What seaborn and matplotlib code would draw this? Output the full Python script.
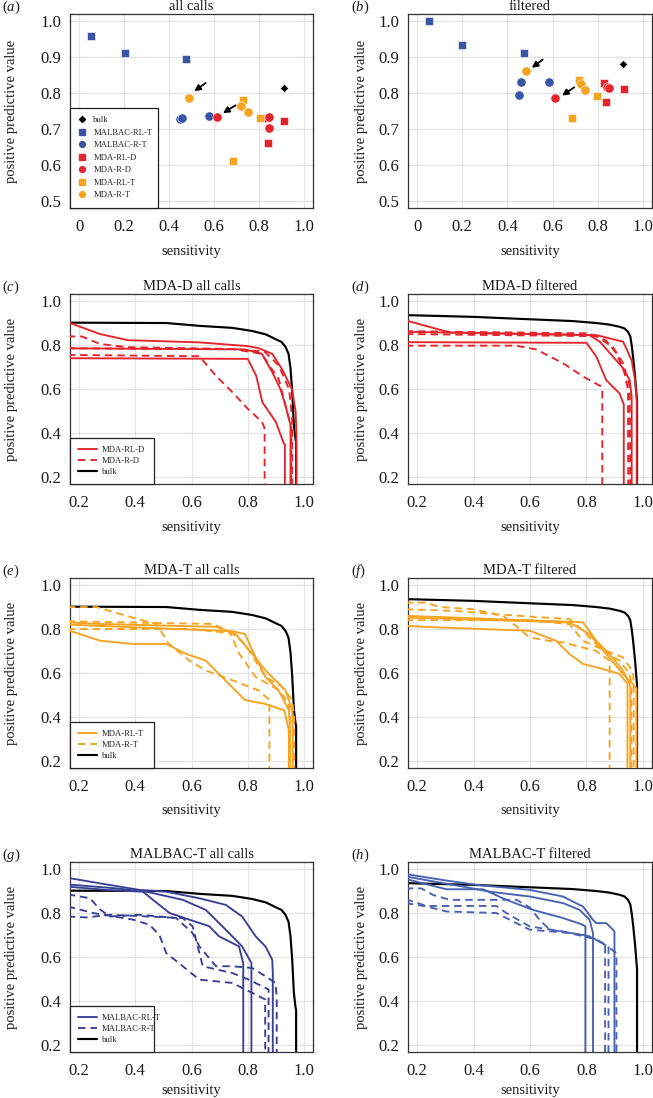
import matplotlib
matplotlib.use("Agg")
import matplotlib.pyplot as plt
from matplotlib.lines import Line2D
import seaborn as sns
import pandas as pd

# ---------------- data: scatter panels (a) all calls, (b) filtered ----------------
pt_method = ["bulk",
             "MALBAC-RL-T", "MALBAC-RL-T", "MALBAC-RL-T",
             "MALBAC-R-T", "MALBAC-R-T", "MALBAC-R-T",
             "MDA-RL-D", "MDA-RL-D", "MDA-RL-D",
             "MDA-R-D", "MDA-R-D", "MDA-R-D",
             "MDA-RL-T", "MDA-RL-T", "MDA-RL-T",
             "MDA-R-T", "MDA-R-T", "MDA-R-T"]
a_sens = [0.911, 0.052, 0.206, 0.474, 0.450, 0.459, 0.580, 0.834, 0.839, 0.911,
          0.612, 0.845, 0.844, 0.727, 0.805, 0.683, 0.489, 0.721, 0.753]
a_ppv = [0.813, 0.958, 0.912, 0.896, 0.727, 0.731, 0.736, 0.731, 0.661, 0.721,
         0.732, 0.733, 0.704, 0.780, 0.731, 0.612, 0.787, 0.763, 0.746]
b_sens = [0.913, 0.052, 0.200, 0.475, 0.458, 0.453, 0.583, 0.829, 0.838, 0.914,
          0.611, 0.843, 0.849, 0.715, 0.795, 0.684, 0.484, 0.725, 0.745]
b_ppv = [0.880, 1.000, 0.934, 0.911, 0.831, 0.795, 0.831, 0.829, 0.776, 0.811,
         0.787, 0.818, 0.814, 0.835, 0.792, 0.730, 0.862, 0.825, 0.809]
# arrows (tail sens, tail ppv, head sens, head ppv)
a_arrows = [(0.563, 0.828, 0.512, 0.805), (0.696, 0.766, 0.640, 0.744)]
b_arrows = [(0.556, 0.893, 0.508, 0.870), (0.696, 0.816, 0.642, 0.793)]

# ---------------- data: bulk curves ----------------
bulk_all_sens = [0.10, 0.51, 0.63, 0.745, 0.815, 0.865, 0.90, 0.92, 0.935, 0.945,
                 0.952, 0.958, 0.964, 0.970, 0.972, 0.972]
bulk_all_ppv = [0.902, 0.900, 0.887, 0.878, 0.864, 0.848, 0.826, 0.814, 0.790, 0.760,
                0.694, 0.588, 0.437, 0.370, 0.360, 0.10]
bulk_filt_sens = [0.10, 0.40, 0.60, 0.75, 0.835, 0.88, 0.917, 0.935, 0.947, 0.955,
                  0.960, 0.965, 0.972, 0.978, 0.979, 0.979]
bulk_filt_ppv = [0.938, 0.928, 0.917, 0.909, 0.900, 0.893, 0.883, 0.875, 0.860, 0.840,
                 0.800, 0.747, 0.657, 0.560, 0.550, 0.10]

# ---------------- (c) MDA-D all calls ----------------
c_rl_sens = [[0.16, 0.274, 0.374, 0.628, 0.80, 0.84, 0.887, 0.922, 0.957, 0.970, 0.973, 0.973],
             [0.16, 0.79, 0.85, 0.887, 0.916, 0.934, 0.952, 0.952],
             [0.16, 0.80, 0.83, 0.852, 0.90, 0.928, 0.932, 0.932]]
c_rl_ppv = [[0.904, 0.850, 0.822, 0.812, 0.795, 0.785, 0.760, 0.690, 0.600, 0.500, 0.406, 0.10],
            [0.785, 0.780, 0.760, 0.677, 0.600, 0.526, 0.436, 0.10],
            [0.740, 0.737, 0.660, 0.540, 0.450, 0.353, 0.350, 0.10]]
c_r_sens = [[0.16, 0.21, 0.274, 0.374, 0.745, 0.86, 0.91, 0.947, 0.958, 0.958],
            [0.16, 0.628, 0.687, 0.745, 0.80, 0.851, 0.86, 0.86],
            [0.16, 0.745, 0.85, 0.88, 0.91, 0.934, 0.952, 0.955, 0.955]]
c_r_ppv = [[0.839, 0.839, 0.805, 0.790, 0.782, 0.770, 0.707, 0.600, 0.466, 0.10],
           [0.755, 0.749, 0.660, 0.586, 0.510, 0.450, 0.420, 0.10],
           [0.785, 0.782, 0.760, 0.700, 0.646, 0.526, 0.436, 0.420, 0.10]]

# ---------------- (d) MDA-D filtered ----------------
d_rl_sens = [[0.16, 0.316, 0.835, 0.93, 0.96, 0.972, 0.978, 0.978],
             [0.16, 0.81, 0.847, 0.894, 0.93, 0.953, 0.96, 0.96],
             [0.16, 0.80, 0.835, 0.87, 0.917, 0.932, 0.932]]
d_rl_ppv = [[0.912, 0.857, 0.845, 0.815, 0.730, 0.640, 0.550, 0.10],
            [0.860, 0.845, 0.815, 0.747, 0.694, 0.640, 0.566, 0.10],
            [0.813, 0.810, 0.747, 0.640, 0.580, 0.530, 0.10]]
d_r_sens = [[0.16, 0.81, 0.87, 0.906, 0.935, 0.947, 0.948],
            [0.16, 0.835, 0.894, 0.93, 0.953, 0.955],
            [0.16, 0.55, 0.622, 0.717, 0.788, 0.853, 0.856, 0.856]]
d_r_ppv = [[0.863, 0.853, 0.820, 0.762, 0.672, 0.597, 0.10],
           [0.850, 0.840, 0.790, 0.716, 0.610, 0.10],
           [0.797, 0.797, 0.780, 0.717, 0.657, 0.611, 0.600, 0.10]]

# ---------------- (e) MDA-T all calls ----------------
e_rl_sens = [[0.16, 0.274, 0.687, 0.757, 0.816, 0.863, 0.934, 0.958, 0.960, 0.960],
             [0.16, 0.745, 0.79, 0.828, 0.863, 0.91, 0.946, 0.95, 0.95],
             [0.16, 0.274, 0.392, 0.51, 0.58, 0.65, 0.72, 0.79, 0.86, 0.93, 0.946, 0.946]]
e_rl_ppv = [[0.830, 0.823, 0.810, 0.777, 0.687, 0.612, 0.522, 0.432, 0.350, 0.10],
            [0.820, 0.790, 0.777, 0.672, 0.582, 0.520, 0.432, 0.350, 0.10],
            [0.795, 0.747, 0.732, 0.732, 0.687, 0.657, 0.567, 0.477, 0.460, 0.430, 0.340, 0.10]]
e_r_sens = [[0.16, 0.262, 0.368, 0.475, 0.52, 0.592, 0.65, 0.745, 0.84, 0.877, 0.877],
            [0.16, 0.675, 0.734, 0.77, 0.828, 0.91, 0.946, 0.95, 0.95],
            [0.16, 0.60, 0.745, 0.79, 0.863, 0.922, 0.958, 0.965, 0.965]]
e_r_ppv = [[0.900, 0.900, 0.860, 0.823, 0.732, 0.657, 0.612, 0.567, 0.520, 0.477, 0.10],
           [0.835, 0.823, 0.790, 0.687, 0.582, 0.522, 0.462, 0.400, 0.10],
           [0.800, 0.800, 0.780, 0.732, 0.582, 0.537, 0.477, 0.400, 0.10]]

# ---------------- (f) MDA-T filtered ----------------
f_rl_sens = [[0.16, 0.717, 0.788, 0.835, 0.882, 0.929, 0.953, 0.955, 0.955],
             [0.16, 0.74, 0.81, 0.87, 0.929, 0.965, 0.977, 0.977],
             [0.16, 0.28, 0.60, 0.693, 0.74, 0.788, 0.835, 0.917, 0.945, 0.945]]
f_rl_ppv = [[0.860, 0.834, 0.830, 0.746, 0.686, 0.611, 0.550, 0.530, 0.10],
            [0.852, 0.830, 0.777, 0.686, 0.596, 0.550, 0.530, 0.10],
            [0.814, 0.807, 0.792, 0.746, 0.686, 0.641, 0.626, 0.596, 0.550, 0.10]]
f_r_sens = [[0.16, 0.233, 0.28, 0.398, 0.505, 0.55, 0.598, 0.67, 0.717, 0.835, 0.882, 0.882],
            [0.16, 0.34, 0.48, 0.74, 0.788, 0.858, 0.917, 0.953, 0.959, 0.959],
            [0.16, 0.60, 0.74, 0.788, 0.87, 0.929, 0.965, 0.967, 0.967]]
f_r_ppv = [[0.920, 0.920, 0.900, 0.890, 0.860, 0.814, 0.762, 0.746, 0.739, 0.700, 0.656, 0.10],
           [0.890, 0.882, 0.867, 0.845, 0.792, 0.700, 0.656, 0.596, 0.550, 0.10],
           [0.840, 0.840, 0.822, 0.746, 0.700, 0.671, 0.604, 0.550, 0.10]]

# ---------------- (g) MALBAC-T all calls ----------------
g_rl_sens = [[0.16, 0.274, 0.416, 0.51, 0.628, 0.722, 0.78, 0.828, 0.863, 0.887, 0.889, 0.889],
             [0.16, 0.333, 0.44, 0.569, 0.651, 0.722, 0.78, 0.813, 0.813],
             [0.16, 0.298, 0.427, 0.463, 0.522, 0.592, 0.663, 0.698, 0.769, 0.784, 0.784]]
g_rl_ppv = [[0.960, 0.935, 0.905, 0.897, 0.867, 0.837, 0.784, 0.694, 0.648, 0.588, 0.530, 0.10],
            [0.930, 0.912, 0.897, 0.860, 0.814, 0.724, 0.648, 0.573, 0.10],
            [0.920, 0.905, 0.897, 0.860, 0.800, 0.770, 0.740, 0.694, 0.648, 0.570, 0.10]]
g_r_sens = [[0.16, 0.239, 0.274, 0.31, 0.416, 0.545, 0.604, 0.628, 0.687, 0.745, 0.816, 0.863, 0.899, 0.903, 0.903],
            [0.16, 0.25, 0.392, 0.45, 0.486, 0.51, 0.569, 0.628, 0.745, 0.816, 0.862, 0.862],
            [0.16, 0.227, 0.31, 0.45, 0.569, 0.604, 0.64, 0.745, 0.804, 0.874, 0.874]]
g_r_ppv = [[0.885, 0.867, 0.817, 0.784, 0.792, 0.777, 0.709, 0.648, 0.558, 0.558, 0.550, 0.512, 0.482, 0.415, 0.10],
           [0.830, 0.800, 0.770, 0.747, 0.700, 0.618, 0.558, 0.497, 0.482, 0.437, 0.407, 0.10],
           [0.784, 0.780, 0.792, 0.784, 0.777, 0.739, 0.558, 0.527, 0.497, 0.452, 0.10]]

# ---------------- (h) MALBAC-T filtered ----------------
h_rl_sens = [[0.16, 0.292, 0.41, 0.599, 0.717, 0.788, 0.823, 0.835, 0.87, 0.894, 0.899, 0.899],
             [0.16, 0.363, 0.457, 0.599, 0.717, 0.776, 0.811, 0.823, 0.823],
             [0.16, 0.304, 0.434, 0.516, 0.611, 0.717, 0.78, 0.796, 0.796]]
h_rl_ppv = [[0.977, 0.950, 0.928, 0.905, 0.875, 0.829, 0.769, 0.754, 0.754, 0.724, 0.716, 0.10],
            [0.966, 0.920, 0.897, 0.875, 0.845, 0.814, 0.769, 0.709, 0.10],
            [0.955, 0.908, 0.908, 0.860, 0.814, 0.777, 0.750, 0.740, 0.10]]
h_r_sens = [[0.16, 0.215, 0.257, 0.316, 0.552, 0.599, 0.634, 0.67, 0.788, 0.835, 0.882, 0.906, 0.906],
            [0.16, 0.233, 0.481, 0.516, 0.599, 0.717, 0.811, 0.866, 0.866],
            [0.16, 0.233, 0.304, 0.481, 0.552, 0.599, 0.74, 0.835, 0.878, 0.878]]
h_r_ppv = [[0.912, 0.912, 0.882, 0.860, 0.860, 0.826, 0.769, 0.724, 0.700, 0.680, 0.641, 0.618, 0.10],
           [0.863, 0.832, 0.832, 0.800, 0.739, 0.716, 0.694, 0.656, 0.10],
           [0.845, 0.830, 0.807, 0.800, 0.754, 0.724, 0.709, 0.680, 0.648, 0.10]]

# ---------------- style ----------------
sns.set_theme(style="white")
plt.rcParams["font.family"] = ["Liberation Serif", "DejaVu Serif"]
plt.rcParams["mathtext.fontset"] = "custom"
plt.rcParams["mathtext.rm"] = "Liberation Serif"
plt.rcParams["mathtext.it"] = "Liberation Serif:italic"

BLUE = "#3a55a4"
RED = "#e3242b"
ORANGE = "#f6a31f"
LBLUE_G = "#3a3f96"
LBLUE_H = "#4861b0"
GRIDC = "#e4e4e4"
FRAME = "#333333"

marker_of = {"bulk": "D", "MALBAC-RL-T": "s", "MALBAC-R-T": "o", "MDA-RL-D": "s",
             "MDA-R-D": "o", "MDA-RL-T": "s", "MDA-R-T": "o"}
color_of = {"bulk": "black", "MALBAC-RL-T": BLUE, "MALBAC-R-T": BLUE, "MDA-RL-D": RED,
            "MDA-R-D": RED, "MDA-RL-T": ORANGE, "MDA-R-T": ORANGE}
size_of = {"D": 18, "s": 32, "o": 44}

W, H = 653, 1098
fig = plt.figure(figsize=(W / 100, H / 100), dpi=100)

cols = [(70, 313), (408, 652)]
rows = [(14, 208), (294, 484), (578, 768), (862, 1052)]
xlab_gap = [37, 37, 36, 32]


def make_ax(r, c):
    (x0, x1), (y0, y1) = cols[c], rows[r]
    return fig.add_axes([x0 / W, 1 - y1 / H, (x1 - x0) / W, (y1 - y0) / H])


def style_ax(ax, c, xt, yt, xlim, ylim, title, letter, row):
    ax.set_xlim(*xlim)
    ax.set_ylim(*ylim)
    ax.set_xticks(xt)
    ax.set_xticklabels(["0" if v == 0 else f"{v:.1f}" for v in xt])
    ax.set_yticks(yt)
    ax.set_yticklabels([f"{v:.1f}" for v in yt])
    ax.grid(True, color=GRIDC, lw=0.9)
    ax.set_axisbelow(True)
    for s in ax.spines.values():
        s.set_color(FRAME)
        s.set_linewidth(0.9)
        s.set_visible(True)
    ax.tick_params(axis="both", direction="out", length=5, width=0.8, color=FRAME,
                   labelsize=12, labelcolor="#1a1a1a")
    ax.tick_params(axis="x", pad=3)
    ax.tick_params(axis="y", pad=1.5)
    ax.set_xlabel("sensitivity", fontsize=10.5, color="#1a1a1a")
    ax.set_ylabel("positive predictive value", fontsize=10.5, color="#1a1a1a")
    hpx = rows[row][1] - rows[row][0]
    wpx = cols[c][1] - cols[c][0]
    ax.xaxis.set_label_coords(0.5, -xlab_gap[row] / hpx)
    ax.yaxis.set_label_coords((-52 if c == 0 else -40) / wpx, 0.5)
    ax.set_title(title, fontsize=10.5, pad=3, color="#1a1a1a")
    lx = 2 if c == 0 else 351
    ly = rows[row][0] - 3
    fig.text(lx / W, 1 - ly / H, "(" + r"$\mathit{" + letter + "}$" + ")", fontsize=10.5,
             va="baseline", ha="left", color="#1a1a1a")


# ---------- scatter panels ----------
scatter_specs = [(0, 0, a_sens, a_ppv, a_arrows, "all calls", "a"),
                 (0, 1, b_sens, b_ppv, b_arrows, "filtered", "b")]
for r, c, xs, ys, arrows, title, letter in scatter_specs:
    ax = make_ax(r, c)
    df = pd.DataFrame({"method": pt_method, "sens": xs, "ppv": ys})
    for m in ["MALBAC-RL-T", "MALBAC-R-T", "MDA-RL-D", "MDA-R-D", "MDA-RL-T", "MDA-R-T", "bulk"]:
        sub = df[df["method"] == m]
        mk = marker_of[m]
        sns.scatterplot(data=sub, x="sens", y="ppv", marker=mk, color=color_of[m],
                        s=size_of[mk], edgecolor="white", linewidth=0.4, ax=ax,
                        legend=False, zorder=3)
    for tx, ty, hx, hy in arrows:
        ax.annotate("", xy=(hx, hy), xytext=(tx, ty),
                    arrowprops=dict(arrowstyle="-|>", color="black", lw=1.3,
                                    mutation_scale=9, shrinkA=0, shrinkB=0), zorder=4)
    style_ax(ax, c, [0, 0.2, 0.4, 0.6, 0.8, 1.0], [0.5, 0.6, 0.7, 0.8, 0.9, 1.0],
             (-0.04, 1.04), (0.48, 1.02), title, letter, r)
    if c == 0:
        labels = ["bulk", "MALBAC-RL-T", "MALBAC-R-T", "MDA-RL-D", "MDA-R-D", "MDA-RL-T", "MDA-R-T"]
        handles = [Line2D([], [], ls="", marker=marker_of[m], color=color_of[m],
                          markersize=(3 if m == "bulk" else 4.2)) for m in labels]
        leg = ax.legend(handles, labels, loc="lower left", bbox_to_anchor=(0, 0, 88 / 243, 1),
                        mode="expand", borderaxespad=0, fontsize=6.2, frameon=True,
                        fancybox=False, edgecolor="#222222", framealpha=1,
                        handlelength=0.8, handletextpad=0.9, labelspacing=0.52,
                        borderpad=1.0)
        leg.get_frame().set_linewidth(0.9)
        leg.set_zorder(5)

# ---------- curve panels ----------
curve_specs = [
    (1, 0, "MDA-D all calls", "c", c_rl_sens, c_rl_ppv, c_r_sens, c_r_ppv, RED, bulk_all_sens, bulk_all_ppv, ("MDA-RL-D", "MDA-R-D")),
    (1, 1, "MDA-D filtered", "d", d_rl_sens, d_rl_ppv, d_r_sens, d_r_ppv, RED, bulk_filt_sens, bulk_filt_ppv, None),
    (2, 0, "MDA-T all calls", "e", e_rl_sens, e_rl_ppv, e_r_sens, e_r_ppv, ORANGE, bulk_all_sens, bulk_all_ppv, ("MDA-RL-T", "MDA-R-T")),
    (2, 1, "MDA-T filtered", "f", f_rl_sens, f_rl_ppv, f_r_sens, f_r_ppv, ORANGE, bulk_filt_sens, bulk_filt_ppv, None),
    (3, 0, "MALBAC-T all calls", "g", g_rl_sens, g_rl_ppv, g_r_sens, g_r_ppv, LBLUE_G, bulk_all_sens, bulk_all_ppv, ("MALBAC-RL-T", "MALBAC-R-T")),
    (3, 1, "MALBAC-T filtered", "h", h_rl_sens, h_rl_ppv, h_r_sens, h_r_ppv, LBLUE_H, bulk_filt_sens, bulk_filt_ppv, None),
]
LW = 1.35
DASH = (0, (4, 2.6))
for r, c, title, letter, rl_s, rl_p, r_s, r_p, col, bk_s, bk_p, leglabels in curve_specs:
    ax = make_ax(r, c)
    sns.lineplot(x=bk_s, y=bk_p, color="black", lw=LW + 0.2, sort=False, estimator=None, ax=ax, zorder=2)
    for xs, ys in zip(r_s, r_p):
        sns.lineplot(x=xs, y=ys, color=col, lw=LW, linestyle=DASH, sort=False, estimator=None, ax=ax, zorder=3)
    for xs, ys in zip(rl_s, rl_p):
        sns.lineplot(x=xs, y=ys, color=col, lw=LW, sort=False, estimator=None, ax=ax, zorder=3)
    style_ax(ax, c, [0.2, 0.4, 0.6, 0.8, 1.0], [0.2, 0.4, 0.6, 0.8, 1.0],
             (0.168, 1.032), (0.168, 1.032), title, letter, r)
    if leglabels is not None:
        handles = [Line2D([], [], color=col, lw=LW),
                   Line2D([], [], color=col, lw=LW, linestyle=DASH),
                   Line2D([], [], color="black", lw=LW + 0.2)]
        leg = ax.legend(handles, [leglabels[0], leglabels[1], "bulk"], loc="lower left",
                        bbox_to_anchor=(0, 0, 84 / 243, 1), mode="expand", borderaxespad=0,
                        fontsize=6.2, frameon=True, fancybox=False, edgecolor="#222222",
                        framealpha=1, handlelength=2.2, handletextpad=0.6,
                        labelspacing=0.38, borderpad=0.9)
        leg.get_frame().set_linewidth(0.9)
        leg.set_zorder(5)

fig.savefig("out.png", dpi=100)
